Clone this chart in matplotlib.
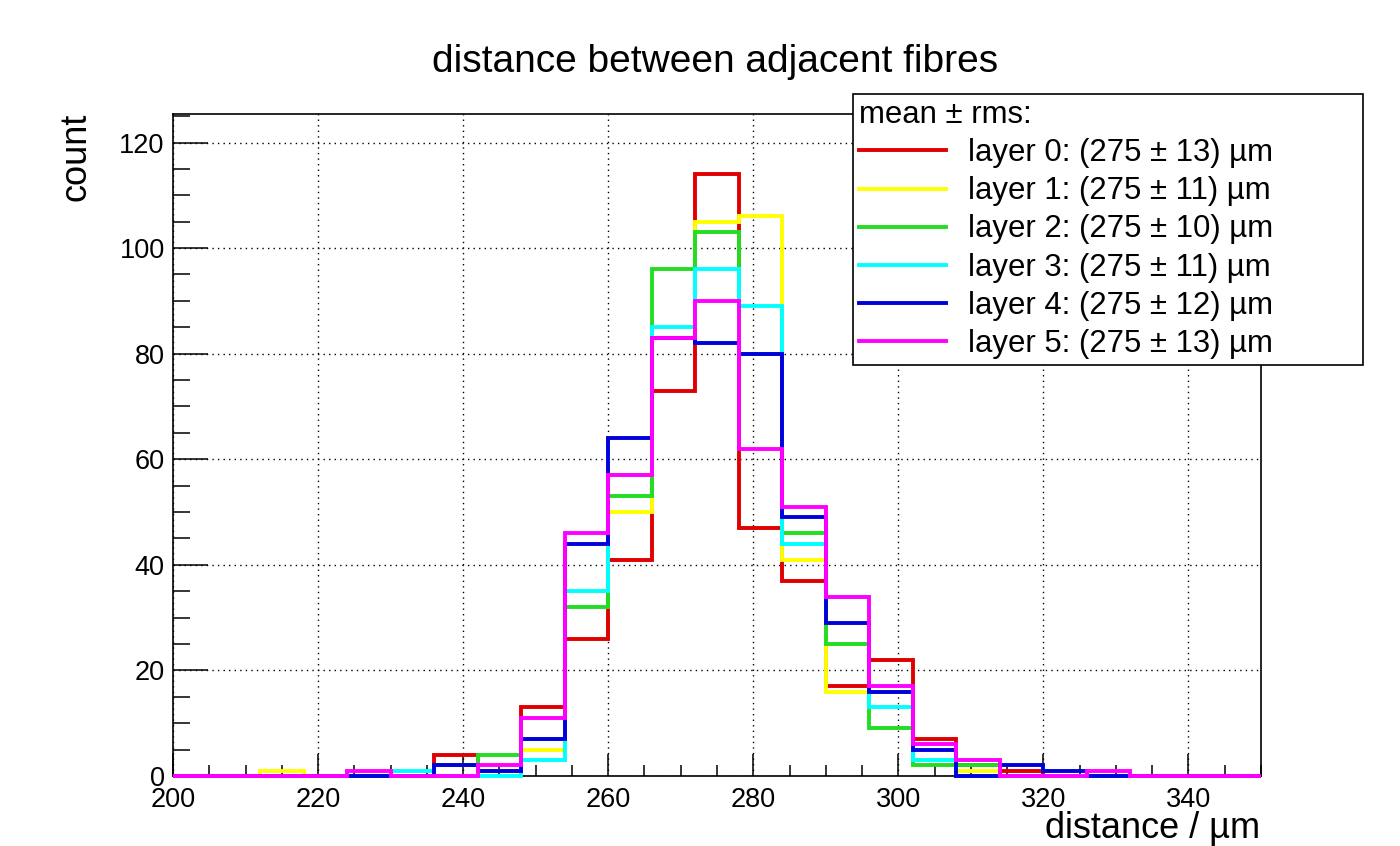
import numpy as np
import matplotlib
matplotlib.use("Agg")
import matplotlib.pyplot as plt
from matplotlib.ticker import MultipleLocator

plt.rcParams['font.family'] = ['Liberation Sans', 'DejaVu Sans']

# histogram binning: 25 bins of 6 um from 200 to 350
edges = np.arange(200, 351, 6)

# counts per bin for each layer
layer0 = [0, 0, 0, 0, 0, 0, 4, 1, 13, 26, 41, 73, 114, 47, 37, 17, 22, 7, 2, 1, 0, 0, 0, 0, 0]
layer1 = [0, 0, 1, 0, 0, 0, 0, 1, 5, 35, 50, 85, 105, 106, 41, 16, 16, 3, 1, 0, 0, 0, 0, 0, 0]
layer2 = [0, 0, 0, 0, 0, 0, 2, 4, 7, 32, 53, 96, 103, 80, 46, 25, 9, 2, 2, 0, 0, 0, 0, 0, 0]
layer3 = [0, 0, 0, 0, 0, 1, 0, 0, 3, 35, 57, 85, 96, 89, 44, 34, 13, 3, 0, 0, 0, 0, 0, 0, 0]
layer4 = [0, 0, 0, 0, 0, 0, 2, 1, 7, 44, 64, 83, 82, 80, 49, 29, 16, 5, 0, 2, 1, 0, 0, 0, 0]
layer5 = [0, 0, 0, 0, 1, 0, 0, 2, 11, 46, 57, 83, 90, 62, 51, 34, 17, 6, 3, 0, 0, 1, 0, 0, 0]

layers = [layer0, layer1, layer2, layer3, layer4, layer5]
labels = ["layer 0: (275 ± 13) µm",
          "layer 1: (275 ± 11) µm",
          "layer 2: (275 ± 10) µm",
          "layer 3: (275 ± 11) µm",
          "layer 4: (275 ± 12) µm",
          "layer 5: (275 ± 13) µm"]
colors = ['#e00000', '#ffff00', '#22dd22', '#00ffff', '#0000dd', '#ff00ff']

fig = plt.figure(figsize=(14, 8.46), dpi=100)
ax = fig.add_axes([173/1400, 1 - 776/846, (1261 - 173)/1400, (776 - 114)/846])

for vals, lab, col in zip(layers, labels, colors):
    ax.stairs(vals, edges, color=col, lw=2.8, label=lab, clip_on=False, zorder=5)

ax.set_xlim(200, 350)
ax.set_ylim(0, 125.4)

ax.xaxis.set_major_locator(MultipleLocator(20))
ax.xaxis.set_minor_locator(MultipleLocator(5))
ax.yaxis.set_major_locator(MultipleLocator(20))
ax.yaxis.set_minor_locator(MultipleLocator(5))

ax.tick_params(axis='both', which='both', direction='in', top=False, right=False,
               labelsize=19.5, width=1.1, color='black')
ax.tick_params(axis='x', which='major', length=16, pad=8)
ax.tick_params(axis='x', which='minor', length=8)
ax.tick_params(axis='y', which='major', length=25, pad=6)
ax.tick_params(axis='y', which='minor', length=12)

ax.grid(True, which='major', color='black', linestyle=(0, (1, 3)), lw=1.0)
ax.set_axisbelow(True)
for sp in ax.spines.values():
    sp.set_linewidth(1.2)

fig.text(0.511, 1 - 62/846, "distance between adjacent fibres", fontsize=28,
         ha='center', va='center')
fig.text(76/1400, 1 - 113/846, "count", fontsize=26, rotation=90,
         ha='center', va='top')
fig.text(1260/1400, 1 - 838/846, "distance / µm", fontsize=26,
         ha='right', va='baseline')

leg = ax.legend(loc='upper left',
                bbox_to_anchor=(853/1400, 1 - 364/846, (1363 - 853)/1400, (364 - 94)/846),
                bbox_transform=fig.transFigure, mode='expand',
                title="mean ± rms:", title_fontsize=22.4, alignment='left',
                fontsize=22.4, frameon=True, fancybox=False, edgecolor='black',
                framealpha=1, borderaxespad=0, borderpad=0.2,
                handlelength=2.8, handletextpad=0.7, labelspacing=0.26)
leg.get_frame().set_linewidth(1.2)
leg.set_zorder(10)
for line in leg.get_lines():
    line.set_linewidth(2.8)

fig.savefig("out.png", dpi=100)
